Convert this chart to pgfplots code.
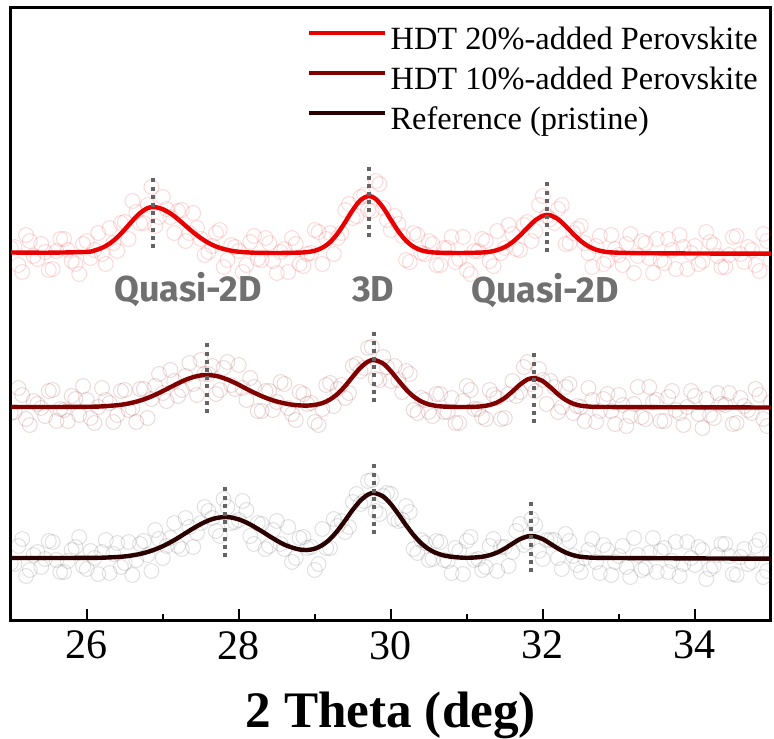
\documentclass[border=0pt]{standalone}
\usepackage{pgfplots}
\pgfplotsset{compat=1.18}
\usepackage{fontspec}
\setmainfont{Liberation Serif}
\newfontfamily\annfont{Fira Sans}

\definecolor{hdtTwenty}{RGB}{232,0,0}
\definecolor{hdtTen}{RGB}{128,0,0}
\definecolor{pristine}{RGB}{42,0,0}
\definecolor{rawTwenty}{RGB}{240,30,30}
\definecolor{rawTen}{RGB}{140,30,30}
\definecolor{rawRef}{RGB}{70,70,70}
\definecolor{peakgray}{RGB}{100,100,100}
\definecolor{labelgray}{RGB}{112,112,112}

\pgfplotsset{
  raw/.style 2 args={only marks, mark=o, mark size=3.7pt, forget plot, color=#1,
    mark options={draw=#1, fill=none, line width=0.5pt, draw opacity=#2}},
  fit/.style={smooth, tension=0.5, line width=2.2pt},
  peakline/.style={peakgray, line width=2pt, dash pattern=on 2pt off 2.1pt, forget plot},
}

\begin{document}
\begin{tikzpicture}
\useasboundingbox (-5.4pt,-59pt) rectangle (381.6pt,310pt);
\begin{axis}[
  scale only axis, width=380pt, height=306pt,
  xmin=25, xmax=35, ymin=0, ymax=612,
  clip marker paths=true,
  xtick={26,28,30,32,34}, minor xtick={27,29,31,33}, ytick=\empty,
  xtick pos=bottom, tick align=inside,
  major tick length=5.5pt, minor tick length=2.8pt,
  every tick/.style={black, line width=1pt},
  axis line style={black, line width=1.5pt},
  /pgf/number format/assume math mode=true,
  xticklabel style={font=\fontsize{21}{21}\selectfont, yshift=-2pt},
  xlabel={2 Theta (deg)},
  xlabel style={at={(axis description cs:0.5,0)}, anchor=base, yshift=-53.5pt,
    font=\fontsize{25.6}{30}\selectfont\bfseries},
  legend style={at={(axis description cs:0.390,1)}, anchor=north west, yshift=-10pt,
    draw=none, fill=none, inner sep=0pt, outer sep=0pt, row sep=5pt, column sep=1.5pt,
    font=\fontsize{16.2}{19}\selectfont,
    nodes={inner sep=0pt, text height=11pt, text depth=4pt}},
  legend cell align=left,
  legend image code/.code={\draw[#1, line width=2.2pt] (0pt,5pt) -- (38pt,5pt);},
]

% measured points, HDT 20%
\addplot[raw={rawTwenty}{0.17}] coordinates {
(25.0,372) (25.1,355) (25.2,385) (25.3,364) (25.4,376) (25.5,350) (25.6,369) (25.7,381) (25.8,359) (25.9,346)
(26.0,379) (26.1,370) (26.2,366) (26.3,392) (26.4,369) (26.5,398) (26.6,419) (26.7,397) (26.8,415) (26.9,394)
(27.0,423) (27.1,403) (27.2,409) (27.3,379) (27.4,407) (27.5,381) (27.6,368) (27.7,387) (27.8,353) (27.9,375)
(28.0,369) (28.1,355) (28.2,384) (28.3,360) (28.4,377) (28.5,347) (28.6,371) (28.7,382) (28.8,356) (28.9,366)
(29.0,390) (29.1,356) (29.2,387) (29.3,382) (29.4,410) (29.5,402) (29.6,423) (29.7,410) (29.8,439) (29.9,412)
(30.0,390) (30.1,396) (30.2,360) (30.3,387) (30.4,367) (30.5,379) (30.6,355) (30.7,372) (30.8,383) (30.9,361)
(31.0,350) (31.1,369) (31.2,381) (31.3,359) (31.4,389) (31.5,372) (31.6,386) (31.7,370) (31.8,398) (31.9,389)
(32.0,424) (32.1,401) (32.2,411) (32.3,376) (32.4,387) (32.5,394) (32.6,367) (32.7,374) (32.8,356) (32.9,385)
(33.0,365) (33.1,376) (33.2,347) (33.3,379) (33.4,362) (33.5,381) (33.6,357) (33.7,370) (33.8,385) (33.9,351)
(34.0,374) (34.1,359) (34.2,378) (34.3,364) (34.4,353) (34.5,383) (34.6,366) (34.7,373) (34.8,355) (34.9,386)
(35.0,360)
(25.05,373) (25.15,348) (25.25,379) (25.35,361) (25.45,368) (25.55,351) (25.65,381) (25.75,370) (25.85,356) (25.95,376)
(26.05,362) (26.15,387) (26.25,356) (26.35,377) (26.45,397) (26.55,381) (26.65,408) (26.75,397) (26.85,433) (26.95,403)
(27.05,411) (27.15,387) (27.25,410) (27.35,387) (27.45,392) (27.55,365) (27.65,374) (27.75,390) (27.85,360) (27.95,373)
(28.05,348) (28.15,378) (28.25,361) (28.35,382) (28.45,359) (28.55,368) (28.65,348) (28.75,376) (28.85,354) (28.95,367)
(29.05,388) (29.15,381) (29.25,366) (29.35,387) (29.45,416) (29.55,404) (29.65,425) (29.75,409) (29.85,436) (29.95,400)
(30.05,404) (30.15,384) (30.25,358) (30.35,385) (30.45,366) (30.55,376) (30.65,355) (30.75,372) (30.85,358) (30.95,383)
(31.05,346) (31.15,369) (31.25,379) (31.35,354) (31.45,367) (31.55,395) (31.65,371) (31.75,395) (31.85,379) (31.95,415)
(32.05,404) (32.15,397) (32.25,415) (32.35,377) (32.45,391) (32.55,377) (32.65,353) (32.75,384) (32.85,360) (32.95,371)
(33.05,355) (33.15,386) (33.25,364) (33.35,377) (33.45,347) (33.55,360) (33.65,381) (33.75,351) (33.85,373) (33.95,367)
(34.05,356) (34.15,388) (34.25,375) (34.35,353) (34.45,365) (34.55,384) (34.65,358) (34.75,370) (34.85,349) (34.95,379)};

% measured points, HDT 10%
\addplot[raw={rawTen}{0.17}] coordinates {
(25.0,207) (25.1,232) (25.2,201) (25.3,219) (25.4,212) (25.5,229) (25.6,199) (25.7,210) (25.8,224) (25.9,205)
(26.0,220) (26.1,197) (26.2,232) (26.3,217) (26.4,205) (26.5,230) (26.6,212) (26.7,231) (26.8,202) (26.9,234)
(27.0,227) (27.1,250) (27.2,224) (27.3,244) (27.4,236) (27.5,260) (27.6,246) (27.7,226) (27.8,252) (27.9,235)
(28.0,255) (28.1,220) (28.2,233) (28.3,209) (28.4,229) (28.5,218) (28.6,236) (28.7,206) (28.8,228) (28.9,216)
(29.0,198) (29.1,211) (29.2,237) (29.3,231) (29.4,222) (29.5,254) (29.6,249) (29.7,272) (29.8,241) (29.9,263)
(30.0,239) (30.1,240) (30.2,249) (30.3,210) (30.4,222) (30.5,208) (30.6,226) (30.7,208) (30.8,222) (30.9,197)
(31.0,234) (31.1,211) (31.2,203) (31.3,230) (31.4,222) (31.5,202) (31.6,239) (31.7,228) (31.8,258) (31.9,229)
(32.0,240) (32.1,239) (32.2,208) (32.3,233) (32.4,207) (32.5,213) (32.6,232) (32.7,198) (32.8,221) (32.9,209)
(33.0,225) (33.1,194) (33.2,216) (33.3,203) (33.4,233) (33.5,220) (33.6,199) (33.7,229) (33.8,207) (33.9,213)
(34.0,224) (34.1,192) (34.2,205) (34.3,227) (34.4,215) (34.5,196) (34.6,222) (34.7,210) (34.8,231) (34.9,201)
(35.0,218)
(25.05,208) (25.15,225) (25.25,195) (25.35,216) (25.45,204) (25.55,230) (25.65,211) (25.75,199) (25.85,221) (25.95,234)
(26.05,202) (26.15,213) (26.25,220) (26.35,198) (26.45,229) (26.55,210) (26.65,198) (26.75,231) (26.85,221) (26.95,246)
(27.05,219) (27.15,239) (27.25,230) (27.35,257) (27.45,225) (27.55,246) (27.65,254) (27.75,230) (27.85,258) (27.95,231)
(28.05,232) (28.15,242) (28.25,209) (28.35,229) (28.45,210) (28.55,238) (28.65,212) (28.75,200) (28.85,226) (28.95,217)
(29.05,195) (29.15,235) (29.25,214) (29.35,235) (29.45,227) (29.55,256) (29.65,252) (29.75,273) (29.85,240) (29.95,253)
(30.05,254) (30.15,228) (30.25,246) (30.35,207) (30.45,220) (30.55,204) (30.65,226) (30.75,208) (30.85,197) (30.95,219)
(31.05,230) (31.15,211) (31.25,201) (31.35,225) (31.45,201) (31.55,226) (31.65,224) (31.75,253) (31.85,236) (31.95,251)
(32.05,216) (32.15,233) (32.25,213) (32.35,236) (32.45,214) (32.55,199) (32.65,220) (32.75,209) (32.85,226) (32.95,196)
(33.05,215) (33.15,204) (33.25,233) (33.35,201) (33.45,218) (33.55,199) (33.65,223) (33.75,210) (33.85,195) (33.95,229)
(34.05,206) (34.15,221) (34.25,202) (34.35,216) (34.45,227) (34.55,197) (34.65,214) (34.75,207) (34.85,225) (34.95,194)};

% measured points, reference film
\addplot[raw={rawRef}{0.17}] coordinates {
(25.0,57) (25.1,74) (25.2,44) (25.3,65) (25.4,53) (25.5,79) (25.6,60) (25.7,48) (25.8,70) (25.9,83)
(26.0,51) (26.1,62) (26.2,68) (26.3,47) (26.4,77) (26.5,57) (26.6,45) (26.7,76) (26.8,65) (26.9,90)
(27.0,62) (27.1,82) (27.2,74) (27.3,102) (27.4,73) (27.5,97) (27.6,109) (27.7,89) (27.8,121) (27.9,97)
(28.0,100) (28.1,110) (28.2,76) (28.3,96) (28.4,74) (28.5,99) (28.6,71) (28.7,58) (28.8,82) (28.9,72)
(29.0,50) (29.1,91) (29.2,72) (29.3,94) (29.4,88) (29.5,118) (29.6,116) (29.7,139) (29.8,109) (29.9,124)
(30.0,126) (30.1,99) (30.2,114) (30.3,71) (30.4,80) (30.5,60) (30.6,79) (30.7,60) (30.8,47) (30.9,69)
(31.0,79) (31.1,60) (31.2,50) (31.3,74) (31.4,49) (31.5,73) (31.6,68) (31.7,96) (31.8,78) (31.9,95)
(32.0,61) (32.1,80) (32.2,62) (32.3,86) (32.4,64) (32.5,48) (32.6,70) (32.7,58) (32.8,75) (32.9,45)
(33.0,64) (33.1,53) (33.2,82) (33.3,50) (33.4,67) (33.5,48) (33.6,72) (33.7,59) (33.8,44) (33.9,78)
(34.0,55) (34.1,70) (34.2,51) (34.3,65) (34.4,76) (34.5,46) (34.6,63) (34.7,56) (34.8,74) (34.9,43)
(35.0,67)
(25.05,56) (25.15,81) (25.25,50) (25.35,68) (25.45,61) (25.55,78) (25.65,48) (25.75,59) (25.85,73) (25.95,54)
(26.05,69) (26.15,46) (26.25,80) (26.35,66) (26.45,53) (26.55,78) (26.65,60) (26.75,79) (26.85,49) (26.95,81)
(27.05,74) (27.15,97) (27.25,71) (27.35,93) (27.45,87) (27.55,113) (27.65,102) (27.75,84) (27.85,113) (27.95,98)
(28.05,119) (28.15,84) (28.25,97) (28.35,71) (28.45,90) (28.55,76) (28.65,93) (28.75,62) (28.85,83) (28.95,73)
(29.05,56) (29.15,72) (29.25,101) (29.35,99) (29.45,93) (29.55,126) (29.65,119) (29.75,140) (29.85,106) (29.95,127)
(30.05,101) (30.15,100) (30.25,108) (30.35,67) (30.45,77) (30.55,61) (30.65,78) (30.75,59) (30.85,72) (30.95,46)
(31.05,83) (31.15,61) (31.25,53) (31.35,81) (31.45,73) (31.55,54) (31.65,89) (31.75,75) (31.85,101) (31.95,69)
(32.05,80) (32.15,80) (32.25,51) (32.35,79) (32.45,55) (32.55,62) (32.65,81) (32.75,47) (32.85,70) (32.95,58)
(33.05,74) (33.15,43) (33.25,65) (33.35,52) (33.45,82) (33.55,69) (33.65,48) (33.75,78) (33.85,56) (33.95,62)
(34.05,73) (34.15,41) (34.25,54) (34.35,76) (34.45,64) (34.55,45) (34.65,71) (34.75,58) (34.85,80) (34.95,49)};

% fitted profiles
\addplot[fit, hdtTwenty] coordinates {
(25.0,367.5) (25.5,367.3) (26.0,368.1) (26.1,369.5) (26.2,372.1) (26.3,376.4) (26.4,382.6)
(26.5,390.6) (26.6,399.2) (26.7,406.9) (26.8,411.9) (26.87,413.0) (26.9,412.9) (27.0,410.8)
(27.1,406.6) (27.2,400.8) (27.3,394.2) (27.4,387.7) (27.5,381.9) (27.6,377.1) (27.7,373.5)
(27.8,371.0) (27.9,369.3) (28.0,368.2) (28.2,367.3) (28.5,367.0) (28.8,367.4) (28.9,367.9)
(29.0,369.3) (29.1,372.3) (29.2,377.8) (29.3,386.5) (29.4,397.9) (29.5,410.0) (29.6,419.8)
(29.71,424.0) (29.8,421.1) (29.9,412.3) (30.0,400.3) (30.1,388.6) (30.2,379.3) (30.3,373.2)
(30.4,369.7) (30.5,368.1) (30.6,367.4) (30.9,367.0) (31.2,367.5) (31.3,368.2) (31.4,369.9)
(31.5,372.9) (31.6,377.8) (31.7,384.6) (31.8,392.4) (31.9,399.6) (32.0,404.2) (32.06,405.0)
(32.1,404.7) (32.2,400.8) (32.3,394.0) (32.4,386.1) (32.5,379.0) (32.6,373.7) (32.7,370.3)
(32.8,368.5) (32.9,367.6) (33.2,366.9) (34.0,366.5) (35.0,366.3)};
\addlegendentry{HDT 20\%-added Perovskite}

\addplot[fit, hdtTen] coordinates {
(25.0,213.0) (25.5,213.0) (26.0,213.2) (26.2,213.6) (26.4,214.8) (26.5,215.8) (26.6,217.3)
(26.7,219.4) (26.8,222.0) (26.9,225.2) (27.0,228.9) (27.1,232.8) (27.2,236.7) (27.3,240.2)
(27.4,242.9) (27.5,244.6) (27.58,245.0) (27.7,244.1) (27.8,241.9) (27.9,238.9) (28.0,235.2)
(28.1,231.2) (28.2,227.4) (28.3,223.9) (28.4,220.9) (28.5,218.5) (28.6,216.7) (28.7,215.3)
(28.8,214.6) (28.9,214.4) (29.0,215.1) (29.1,216.9) (29.2,220.5) (29.3,226.2) (29.4,234.1)
(29.5,243.4) (29.6,252.3) (29.7,258.4) (29.78,260.0) (29.9,256.4) (30.0,248.9) (30.1,239.6)
(30.2,230.6) (30.3,223.5) (30.4,218.6) (30.5,215.6) (30.6,214.1) (30.7,213.4) (30.9,213.0)
(31.1,213.2) (31.2,213.7) (31.3,215.0) (31.4,217.6) (31.5,222.1) (31.6,228.5) (31.7,235.4)
(31.8,240.6) (31.88,242.0) (31.9,241.9) (32.0,238.8) (32.1,232.7) (32.2,225.8) (32.3,220.1)
(32.4,216.3) (32.5,214.3) (32.6,213.5) (32.8,213.0) (34.0,212.7) (35.0,212.5)};
\addlegendentry{HDT 10\%-added Perovskite}

\addplot[fit, pristine] coordinates {
(25.0,62.0) (25.5,62.0) (26.0,62.1) (26.2,62.3) (26.4,63.0) (26.5,63.6) (26.6,64.6) (26.7,66.0)
(26.8,68.0) (26.9,70.6) (27.0,73.8) (27.1,77.7) (27.2,82.1) (27.3,86.9) (27.4,91.6) (27.5,95.9)
(27.6,99.5) (27.7,101.9) (27.82,103.0) (27.9,102.5) (28.0,100.6) (28.1,97.5) (28.2,93.4)
(28.3,88.8) (28.4,84.0) (28.5,79.4) (28.6,75.3) (28.7,72.5) (28.8,70.5) (28.9,70.0) (29.0,71.3)
(29.1,74.9) (29.2,80.9) (29.3,89.4) (29.4,99.6) (29.5,110.3) (29.6,119.4) (29.7,125.4)
(29.78,127.0) (29.9,123.5) (30.0,115.9) (30.1,105.8) (30.2,94.9) (30.3,84.9) (30.4,76.8)
(30.5,70.8) (30.6,66.9) (30.7,64.5) (30.8,63.2) (30.9,62.5) (31.0,62.2) (31.1,62.5) (31.2,63.2)
(31.3,64.8) (31.4,67.5) (31.5,71.5) (31.6,76.3) (31.7,80.9) (31.8,83.6) (31.85,84.0) (31.9,83.6)
(32.0,80.9) (32.1,76.3) (32.2,71.5) (32.3,67.5) (32.4,64.8) (32.5,63.2) (32.6,62.5) (32.7,62.2)
(33.0,62.0) (34.0,61.6) (35.0,61.3)};
\addlegendentry{Reference (pristine)}

% peak positions
\addplot[peakline] coordinates {(26.87,372) (26.87,443)};
\addplot[peakline] coordinates {(29.71,383) (29.71,455)};
\addplot[peakline] coordinates {(32.06,368) (32.06,440)};
\addplot[peakline] coordinates {(27.58,207) (27.58,278)};
\addplot[peakline] coordinates {(29.78,218) (29.78,289)};
\addplot[peakline] coordinates {(31.88,197) (31.88,268)};
\addplot[peakline] coordinates {(27.82,63) (27.82,136)};
\addplot[peakline] coordinates {(29.78,86) (29.78,157)};
\addplot[peakline] coordinates {(31.85,48) (31.85,120)};

\begin{scope}[every node/.style={anchor=base, text=labelgray,
    font=\fontsize{18}{18}\annfont\bfseries}]
  \node at (axis cs:27.33,318) {Quasi-2D};
  \node at (axis cs:29.77,318) {3D};
  \node at (axis cs:32.03,317) {Quasi-2D};
\end{scope}

\end{axis}
\end{tikzpicture}
\end{document}
